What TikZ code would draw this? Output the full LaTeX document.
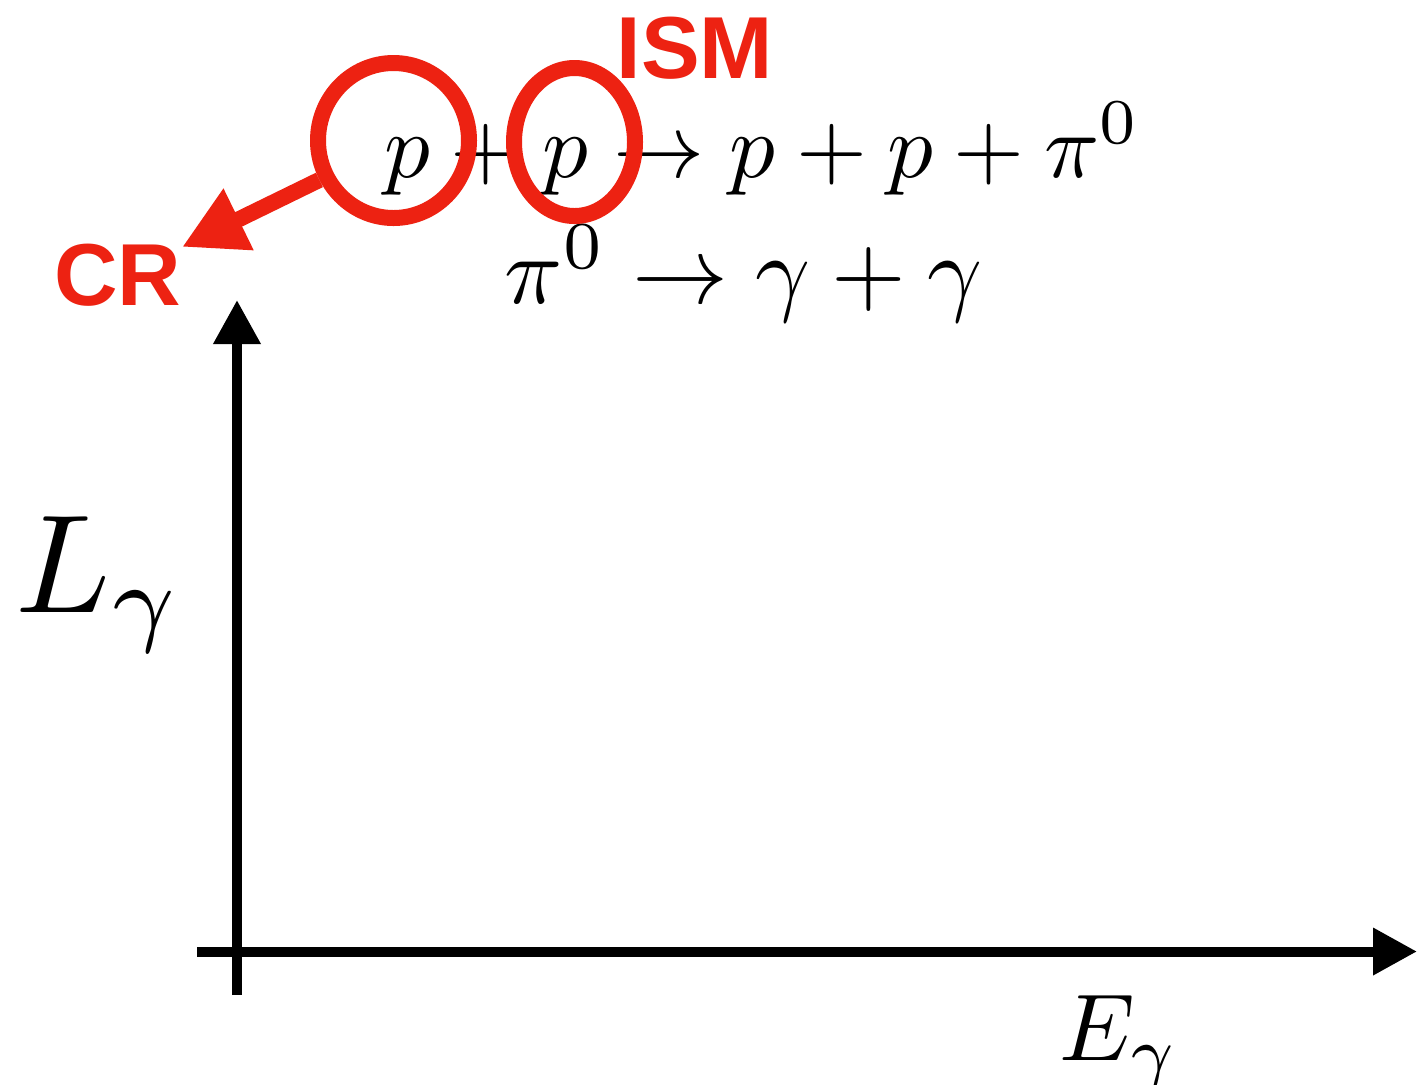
\documentclass[tikz,border=0pt]{standalone}
\usepackage{fontspec}
\newfontfamily\hvfont{Liberation Sans}
\usetikzlibrary{arrows.meta,shapes.geometric}
\definecolor{crred}{RGB}{237,34,18}
\begin{document}
\begin{tikzpicture}[x=0.5pt,y=-0.5pt,
  axis/.style={line width=5pt,-{Triangle[length=22pt,width=22.5pt]}},
  ring/.style={draw=crred,line width=8pt,ellipse,inner sep=0pt},
  redlabel/.style={text=crred,font=\hvfont\bfseries\fontsize{44}{50}\selectfont,inner sep=0pt},
  eq/.style={inner sep=0pt,anchor=base west}]
\path[use as bounding box,fill=white] (0,0) rectangle (1417,1084);
% equations
\node[eq,scale=4.56] (r1) at (383,177) {$p+p\to p+p+\pi^0$};
\node[eq,scale=4.8] (r2) at (503,303) {$\pi^0\to\gamma+\gamma$};
% axis labels
\node[eq,scale=7.0] (L) at (13,612) {$L_\gamma$};
\node[eq,scale=4.75] (E) at (1058,1060) {$E_\gamma$};
% red labels
\node[redlabel] (ism) at (695,48) {ISM};
\node[redlabel] (cr) at (118,275) {CR};
% rings
\node[ring,minimum width=75.5pt,minimum height=77.5pt] (c1) at (393.5,140.5) {};
\node[ring,minimum width=60.5pt,minimum height=74pt] (c2) at (574.5,142) {};
% red arrow
\coordinate (crtip) at (182,247);
\draw[crred,line width=8pt,-{Triangle[length=31.5pt,width=32pt]}] (c1.208) -- (crtip);
% axes
\coordinate (o1) at (237,995);
\coordinate (ytop) at (237,300);
\coordinate (xl) at (197,951.5);
\coordinate (xr) at (1417,951.5);
\draw[axis] (o1) -- (ytop);
\draw[axis] (xl) -- (xr);
\end{tikzpicture}
\end{document}
